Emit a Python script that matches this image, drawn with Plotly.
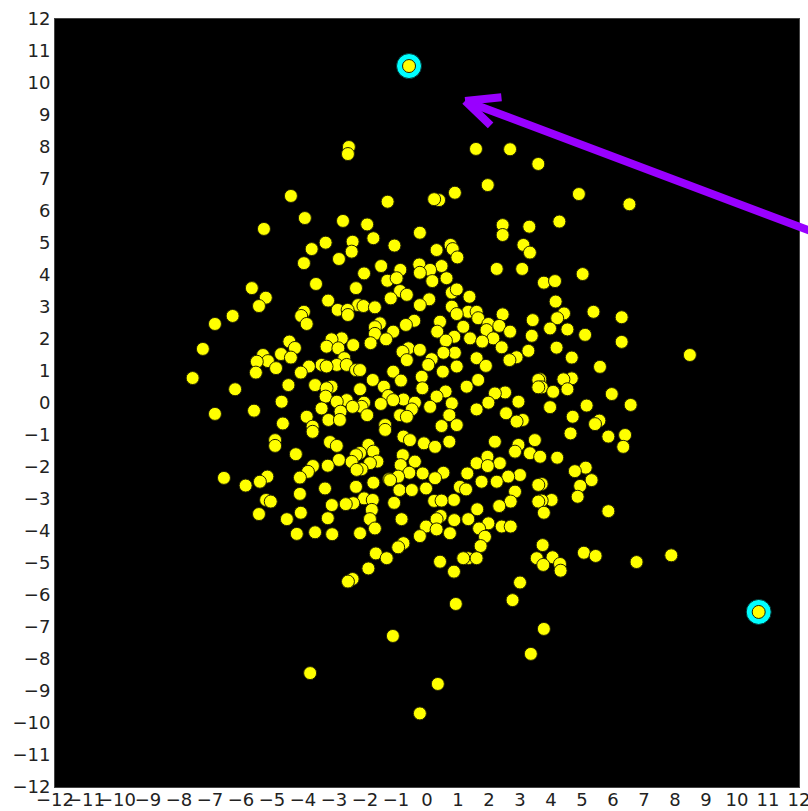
import plotly.graph_objects as go

# ---- data ----
points = [
    # top / upper area
    (-2.52,8.0),(-2.55,7.78),(1.58,7.94),(2.68,7.93),(3.59,7.47),(1.96,6.81),(0.90,6.57),(0.39,6.34),(0.23,6.37),
    (-1.27,6.29),(4.9,6.53),(6.53,6.21),(-4.39,6.47),(-3.94,5.78),(-2.71,5.69),(-5.26,5.44),(-1.93,5.58),(4.27,5.67),
    (2.44,5.56),(3.30,5.51),(-0.23,5.32),(2.44,5.25),(-1.73,5.15),(-3.27,5.01),(-2.4,5.04),(-1.05,4.92),(3.11,4.94),
    (0.76,4.94),(0.83,4.81),(0.31,4.78),(-3.72,4.81),(-2.43,4.73),(3.32,4.70),(0.98,4.55),(-2.84,4.5),(-3.97,4.37),
    (-1.48,4.28),(-0.25,4.33),(0.47,4.28),(2.25,4.19),(3.07,4.19),(-0.86,4.16),(0.10,4.16),(-0.23,4.07),(-2.03,4.05),(5.02,4.03),
]
band_3_4 = [
    (0.17,3.81),(0.63,3.90),(-1.28,3.82),(-0.98,3.90),(3.77,3.76),(4.13,3.81),(-3.58,3.72),(-2.29,3.59),(-5.65,3.59),
    (-0.87,3.5),(0.80,3.45),(0.96,3.55),(-0.65,3.38),(1.37,3.32),(-1.17,3.27),(-5.2,3.29),(0.07,3.24),(-3.19,3.2),
    (4.15,3.17),(-2.22,3.06),(-2.05,3.03),(-5.42,3.03),(-1.68,2.99),(-0.23,3.06),(0.80,3.01),(-2.88,2.91),(-2.56,2.91),
    (-2.55,2.75),(-3.97,2.85),(-4.06,2.72),(1.33,2.85),(1.6,2.85),(0.96,2.78),(2.44,2.77),(4.42,2.8),(5.37,2.85),
    (-6.27,2.72),(1.65,2.65),(4.2,2.65),(3.41,2.59),(6.28,2.68),
]
band_1_3 = [
    (-6.84,2.47),(-3.88,2.47),(1.98,2.47),(2.33,2.41),(0.42,2.54),(-0.41,2.57),(-0.68,2.44),(-1.52,2.49),(-1.68,2.37),
    (1.17,2.38),(3.97,2.33),(4.53,2.3),(2.68,2.23),(0.33,2.23),(-1.09,2.23),(1.92,2.28),(-1.68,2.16),(5.1,2.13),
    (3.38,2.1),(0.88,2.07),(2.14,2.02),(1.39,2.02),(-1.32,1.99),(-2.75,2.02),(-3.08,1.99),(0.61,1.95),(-4.44,1.92),
    (1.78,1.92),(6.28,1.91),(-1.82,1.87),(-2.38,1.81),(-3.24,1.76),(-2.86,1.71),(-4.26,1.72),(2.41,1.74),(4.18,1.73),
    (-0.6,1.71),(-7.23,1.69),(-0.23,1.66),(-0.79,1.6),(3.27,1.63),(0.9,1.57),(0.53,1.57),(-4.71,1.53),(-5.29,1.5),
    (8.48,1.5),(2.89,1.43),(4.67,1.42),(-4.39,1.42),(-2.67,1.4),(1.6,1.40),(-0.65,1.34),(2.66,1.34),(0.15,1.37),
    (-5.13,1.31),(-5.49,1.29),(0.04,1.19),(-2.91,1.19),(-3.4,1.19),(-2.59,1.19),(1.9,1.16),(0.96,1.14),(-3.24,1.14),
    (-3.81,1.14),(5.58,1.13),(-4.87,1.09),(-2.29,1.03),(-2.16,1.03),(-1.09,0.98),(0.51,0.98),(-5.52,0.95),(-4.07,0.95),
]
band_0_1 = [
    (-0.17,0.82),(-7.56,0.78),(4.67,0.77),(4.4,0.74),(3.65,0.74),(-0.84,0.7),(-1.75,0.72),(1.65,0.72),(3.59,0.72),
    (-3.61,0.56),(-4.47,0.56),(-1.39,0.51),(1.28,0.51),(-3.08,0.51),(3.7,0.49),(3.59,0.49),(-3.24,0.46),(-0.15,0.46),
    (-6.19,0.43),(4.53,0.43),(-2.16,0.43),(0.6,0.36),(4.07,0.35),(2.52,0.33),(2.19,0.3),(5.96,0.28),(-1.25,0.22),
    (-3.27,0.2),(0.31,0.2),(-0.76,0.11),(-1.09,0.09),(-2.59,0.09),(-2.91,0.04),(-4.69,0.04),(2.95,0.04),(-2.03,0.01),
    (-0.39,0.01),(1.98,0.01),(0.8,-0.01),
]
band_m1_0 = [
    (-1.49,-0.03),(5.15,-0.08),(6.57,-0.06),(0.1,-0.12),(-2.11,-0.12),(-2.4,-0.12),(3.97,-0.13),(-3.4,-0.17),(-0.49,-0.2),
    (1.6,-0.2),(-5.58,-0.24),(-2.79,-0.27),(2.55,-0.32),(-6.84,-0.34),(-0.87,-0.38),(-1.93,-0.38),(0.72,-0.38),(-0.65,-0.43),
    (-3.88,-0.43),(4.7,-0.43),(3.09,-0.53),(-3.18,-0.53),(-2.81,-0.53),(5.56,-0.55),(2.89,-0.58),(-4.65,-0.64),(5.42,-0.66),
    (-1.35,-0.69),(0.96,-0.69),(0.47,-0.72),(-3.69,-0.74),(-1.35,-0.84),(-3.69,-0.9),(4.63,-0.95),(6.39,-1.0),(5.85,-1.05),(-0.76,-1.05),
]
band_m2_m1 = [
    (-0.55,-1.16),(-4.9,-1.16),(3.48,-1.16),(-3.13,-1.22),(0.72,-1.21),(2.19,-1.21),(-0.1,-1.26),(-1.89,-1.31),(2.95,-1.31),
    (-2.91,-1.34),(-4.9,-1.34),(6.33,-1.37),(0.26,-1.37),(-1.73,-1.52),(2.84,-1.52),(-2.16,-1.56),(3.32,-1.57),(-4.23,-1.6),
    (-2.29,-1.63),(-0.78,-1.63),(3.65,-1.68),(1.95,-1.68),(4.2,-1.71),(-2.84,-1.78),(-1.6,-1.83),(-0.39,-1.83),(-2.43,-1.84),
    (-1.84,-1.88),(1.6,-1.88),(2.35,-1.88),(-0.85,-1.94),(-3.2,-1.96),(-3.68,-1.97),(1.96,-1.97),
]
band_m3_m2 = [
    (5.12,-2.02),(-2.11,-2.07),(-2.27,-2.09),(4.77,-2.13),(-3.84,-2.15),(-0.57,-2.18),(0.53,-2.18),(-0.14,-2.2),(1.3,-2.2),
    (3.0,-2.25),(-0.93,-2.3),(2.62,-2.3),(-5.15,-2.3),(-4.1,-2.33),(-6.55,-2.34),(0.26,-2.35),(-1.22,-2.38),(5.31,-2.41),
    (-1.19,-2.41),(2.25,-2.46),(1.76,-2.46),(-5.39,-2.46),(-1.73,-2.49),(3.7,-2.53),(3.59,-2.56),(-5.85,-2.58),(4.94,-2.59),
    (1.06,-2.62),(-2.29,-2.62),(-3.29,-2.67),(-0.03,-2.67),(1.26,-2.7),(-0.89,-2.72),(-0.49,-2.72),(2.84,-2.77),(-4.1,-2.84),
    (4.86,-2.93),(-2.03,-2.98),
]
band_m4_m3 = [
    (-1.75,-3.03),(0.87,-3.03),(4.02,-3.03),(-5.19,-3.03),(0.23,-3.06),(0.47,-3.05),(3.7,-3.05),(-5.04,-3.08),(2.7,-3.08),
    (3.59,-3.08),(-1.06,-3.12),(-2.38,-3.13),(-2.62,-3.16),(-3.07,-3.19),(2.33,-3.22),(1.62,-3.32),(-1.78,-3.34),(5.85,-3.38),
    (-4.07,-3.43),(3.77,-3.43),(-5.42,-3.47),(0.44,-3.53),(-3.2,-3.6),(-1.84,-3.63),(-0.82,-3.63),(-4.52,-3.63),(0.31,-3.63),
    (1.33,-3.63),(0.88,-3.66),(1.98,-3.76),(-0.03,-3.86),(2.41,-3.86),(2.7,-3.86),(-1.68,-3.92),(1.68,-3.92),(0.31,-3.95),
]
band_low = [
    (-3.61,-4.04),(-2.16,-4.07),(0.74,-4.07),(-3.06,-4.1),(-4.2,-4.09),(-0.23,-4.16),(1.87,-4.18),(-0.76,-4.38),(3.73,-4.44),
    (-0.93,-4.51),(1.73,-4.47),(5.06,-4.68),(-1.65,-4.7),(7.88,-4.76),(5.44,-4.78),(4.05,-4.82),(-1.3,-4.85),(1.33,-4.85),
    (1.6,-4.85),(3.54,-4.85),(1.17,-4.85),(0.42,-4.96),(6.76,-4.97),(4.29,-5.03),(3.75,-5.06),(-1.89,-5.17),(4.31,-5.24),
    (0.87,-5.27),(-2.4,-5.5),(-2.55,-5.58),(3.0,-5.61),(2.76,-6.16),(0.93,-6.28),(3.77,-7.06),(-1.1,-7.28),(3.35,-7.84),
    (-3.77,-8.44),(0.35,-8.78),(-0.23,-9.7),
]

all_pts = points + band_3_4 + band_1_3 + band_0_1 + band_m1_0 + band_m2_m1 + band_m3_m2 + band_m4_m3 + band_low
cloud_x = [p[0] for p in all_pts]
cloud_y = [p[1] for p in all_pts]

highlight_x = [-0.58, 10.7]
highlight_y = [10.53, -6.53]

axis_ticks = list(range(-12, 13))
tick_text = [str(t) if t >= 0 else "\u2212" + str(-t) for t in axis_ticks]

# arrow (annotation) endpoints in data units
arrow_tip = (1.23, 9.44)
arrow_tail = (14.0, 4.78)
arrow_arms = [(2.45, 9.56), (2.10, 8.63)]

fig = go.Figure()
fig.add_trace(go.Scatter(
    x=highlight_x, y=highlight_y, mode="markers",
    marker=dict(size=25, color="#00ffff", line=dict(color="#003333", width=1)),
    hoverinfo="skip", showlegend=False))
fig.add_trace(go.Scatter(
    x=cloud_x + highlight_x, y=cloud_y + highlight_y, mode="markers",
    marker=dict(size=13, color="#ffff00", line=dict(color="#222200", width=1)),
    showlegend=False))

purple = "#9900ff"
for tail in [arrow_tail] + arrow_arms:
    fig.add_annotation(x=arrow_tip[0], y=arrow_tip[1], ax=tail[0], ay=tail[1],
                       xref="x", yref="y", axref="x", ayref="y", text="",
                       showarrow=True, arrowhead=0, arrowwidth=8, arrowcolor=purple,
                       standoff=0)

axis_common = dict(range=[-12, 12], tickvals=axis_ticks, ticktext=tick_text, tickangle=0, automargin=False,
                   ticklabeloverflow="allow",
                   showgrid=False, zeroline=False, showline=True, linecolor="#444444", linewidth=1, mirror=True,
                   ticks="inside", ticklen=5, tickcolor="black",
                   tickfont=dict(family="DejaVu Sans", size=18, color="#222222"))
fig.update_xaxes(**axis_common, ticklabelstandoff=-4)
fig.update_yaxes(**axis_common)

fig.update_layout(width=808, height=811, margin=dict(l=55, r=9, t=19, b=24),
                  paper_bgcolor="white", plot_bgcolor="black", showlegend=False)

fig.write_html("out.html")
